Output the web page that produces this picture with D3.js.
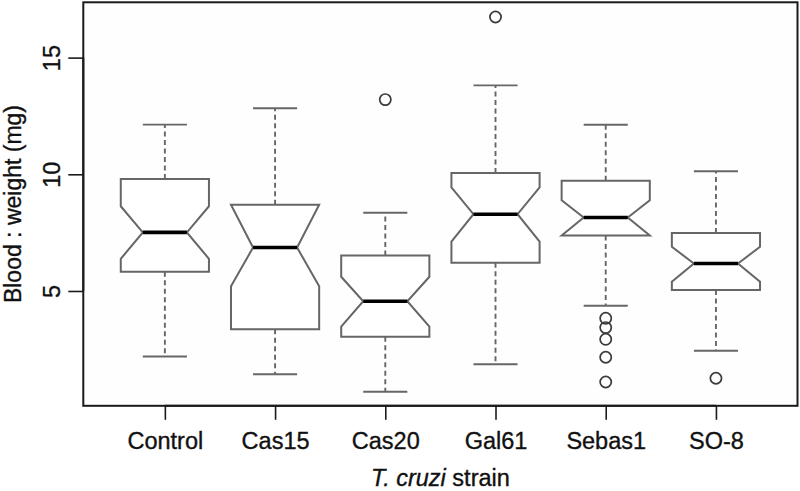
<!DOCTYPE html>
<html>
<head>
<meta charset="utf-8">
<script src="https://cdn.jsdelivr.net/npm/d3@7"></script>
<style>
  html, body { margin: 0; padding: 0; background: #ffffff; }
  svg { display: block; }
  text { font-family: "Liberation Sans", Arial, sans-serif; fill: #111; }
</style>
</head>
<body>
<svg id="chart" width="800" height="491"></svg>
<script>
// ---- data ----
const categories  = ["Control", "Cas15", "Cas20", "Gal61", "Sebas1", "SO-8"];
const whiskerLow  = [2.19, 1.43, 0.68, 1.86, 4.37, 2.44];
const q1          = [5.82, 3.36, 3.04, 6.21, 7.38, 5.04];
const median      = [7.51, 6.86, 4.56, 8.29, 8.15, 6.18];
const q3          = [9.80, 8.70, 6.52, 10.06, 9.72, 7.48];
const whiskerHigh = [12.13, 12.83, 8.35, 13.81, 12.12, 10.13];
const notchLow    = [6.38, 5.20, 3.47, 7.12, 7.38, 5.40];
const notchHigh   = [8.63, 8.70, 5.61, 9.44, 8.89, 6.89];
const outliers    = [[], [], [13.2], [16.74], [3.83, 3.43, 2.93, 2.16, 1.10], [1.26]];
const yTicks      = [5, 10, 15];
const yLabel      = "Blood : weight (mg)";
const xLabelItalic = "T. cruzi";
const xLabelRest   = " strain";

const svg = d3.select("#chart");
const frame = { left: 83.3, right: 797.5, top: 2.3, bottom: 405.8 };

const x = d3.scaleLinear().domain([0.26, categories.length + 0.74]).range([frame.left, frame.right]);
const y = d3.scaleLinear().domain([0.08, 17.37]).range([frame.bottom, frame.top]);

const boxColor = "#666666";
const hw = (x(1.4) - x(1)); // half box width (boxwex 0.8)

// plot background
svg.append("rect")
  .attr("x", frame.left).attr("y", frame.top)
  .attr("width", frame.right - frame.left).attr("height", frame.bottom - frame.top)
  .attr("fill", "#fefefe");

const data = categories.map((c, i) => ({
  name: c, pos: i + 1,
  lo: whiskerLow[i], q1: q1[i], med: median[i], q3: q3[i], hi: whiskerHigh[i],
  nlo: Math.max(notchLow[i], q1[i]), nhi: Math.min(notchHigh[i], q3[i]),
  out: outliers[i]
}));

const g = svg.append("g");
data.forEach(d => {
  const cx = x(d.pos);
  // whiskers (dashed)
  g.append("line").attr("x1", cx).attr("x2", cx).attr("y1", y(d.q3)).attr("y2", y(d.hi))
    .attr("stroke", boxColor).attr("stroke-width", 1.9).attr("stroke-dasharray", "5,3.5");
  g.append("line").attr("x1", cx).attr("x2", cx).attr("y1", y(d.q1)).attr("y2", y(d.lo))
    .attr("stroke", boxColor).attr("stroke-width", 1.9).attr("stroke-dasharray", "5,3.5");
  // staples
  [d.hi, d.lo].forEach(v => {
    g.append("line").attr("x1", cx - hw / 2).attr("x2", cx + hw / 2).attr("y1", y(v)).attr("y2", y(v))
      .attr("stroke", boxColor).attr("stroke-width", 1.9);
  });
  // notched box
  const pts = [
    [cx - hw, y(d.q1)], [cx - hw, y(d.nlo)], [cx - hw / 2, y(d.med)], [cx - hw, y(d.nhi)], [cx - hw, y(d.q3)],
    [cx + hw, y(d.q3)], [cx + hw, y(d.nhi)], [cx + hw / 2, y(d.med)], [cx + hw, y(d.nlo)], [cx + hw, y(d.q1)]
  ];
  g.append("path").attr("d", d3.line()(pts) + "Z")
    .attr("fill", "#ffffff").attr("stroke", boxColor).attr("stroke-width", 2)
    .attr("stroke-linejoin", "miter");
  // median
  g.append("line").attr("x1", cx - hw / 2).attr("x2", cx + hw / 2).attr("y1", y(d.med)).attr("y2", y(d.med))
    .attr("stroke", "#000").attr("stroke-width", 3.6);
  // outliers
  d.out.forEach(v => {
    g.append("circle").attr("cx", cx).attr("cy", y(v)).attr("r", 5.6)
      .attr("fill", "none").attr("stroke", "#3a3a3a").attr("stroke-width", 1.7);
  });
});

// frame
svg.append("rect")
  .attr("x", frame.left).attr("y", frame.top)
  .attr("width", frame.right - frame.left).attr("height", frame.bottom - frame.top)
  .attr("fill", "none").attr("stroke", "#1a1a1a").attr("stroke-width", 2);

const textStroke = sel => sel.attr("stroke", "#111").attr("stroke-width", 0.35);

// x axis
const xAxis = d3.axisBottom(x).tickValues(d3.range(1, categories.length + 1))
  .tickFormat(v => categories[v - 1]).tickSize(14).tickPadding(6).tickSizeOuter(0);
const gx = svg.append("g").attr("transform", `translate(0,${frame.bottom})`).call(xAxis);
gx.select(".domain").attr("d", `M${x(1)},0H${x(categories.length)}`).attr("stroke", "#1a1a1a").attr("stroke-width", 2);
gx.selectAll(".tick line").attr("stroke", "#1a1a1a").attr("stroke-width", 1.6);
gx.selectAll(".tick text").attr("font-size", 23.5).attr("fill", "#111")
  .attr("font-family", "'Liberation Sans', Arial, sans-serif")
  .attr("dy", null).attr("y", 43.5).call(textStroke);

// y axis
const yAxis = d3.axisLeft(y).tickValues(yTicks).tickSize(15).tickSizeOuter(0).tickFormat(d3.format("d"));
const gy = svg.append("g").attr("transform", `translate(${frame.left},0)`).call(yAxis);
gy.select(".domain").attr("d", `M0,${y(yTicks[0])}V${y(yTicks[yTicks.length - 1])}`).attr("stroke", "#1a1a1a").attr("stroke-width", 2);
gy.selectAll(".tick line").attr("stroke", "#1a1a1a").attr("stroke-width", 1.6);
gy.selectAll(".tick text")
  .attr("font-size", 23.5).attr("fill", "#111")
  .attr("font-family", "'Liberation Sans', Arial, sans-serif")
  .attr("x", null).attr("dy", null)
  .attr("text-anchor", "middle")
  .attr("transform", "translate(-23.5,0) rotate(-90)").call(textStroke);

// y label
svg.append("text")
  .attr("transform", `translate(20.5,${(frame.top + frame.bottom) / 2}) rotate(-90)`)
  .attr("text-anchor", "middle").attr("font-size", 23)
  .text(yLabel).call(textStroke);

// x label
const xt = svg.append("text")
  .attr("x", (frame.left + frame.right) / 2).attr("y", 486)
  .attr("text-anchor", "middle").attr("font-size", 23.5).call(textStroke);
xt.append("tspan").attr("font-style", "italic").text(xLabelItalic);
xt.append("tspan").text(xLabelRest);
</script>
</body>
</html>
